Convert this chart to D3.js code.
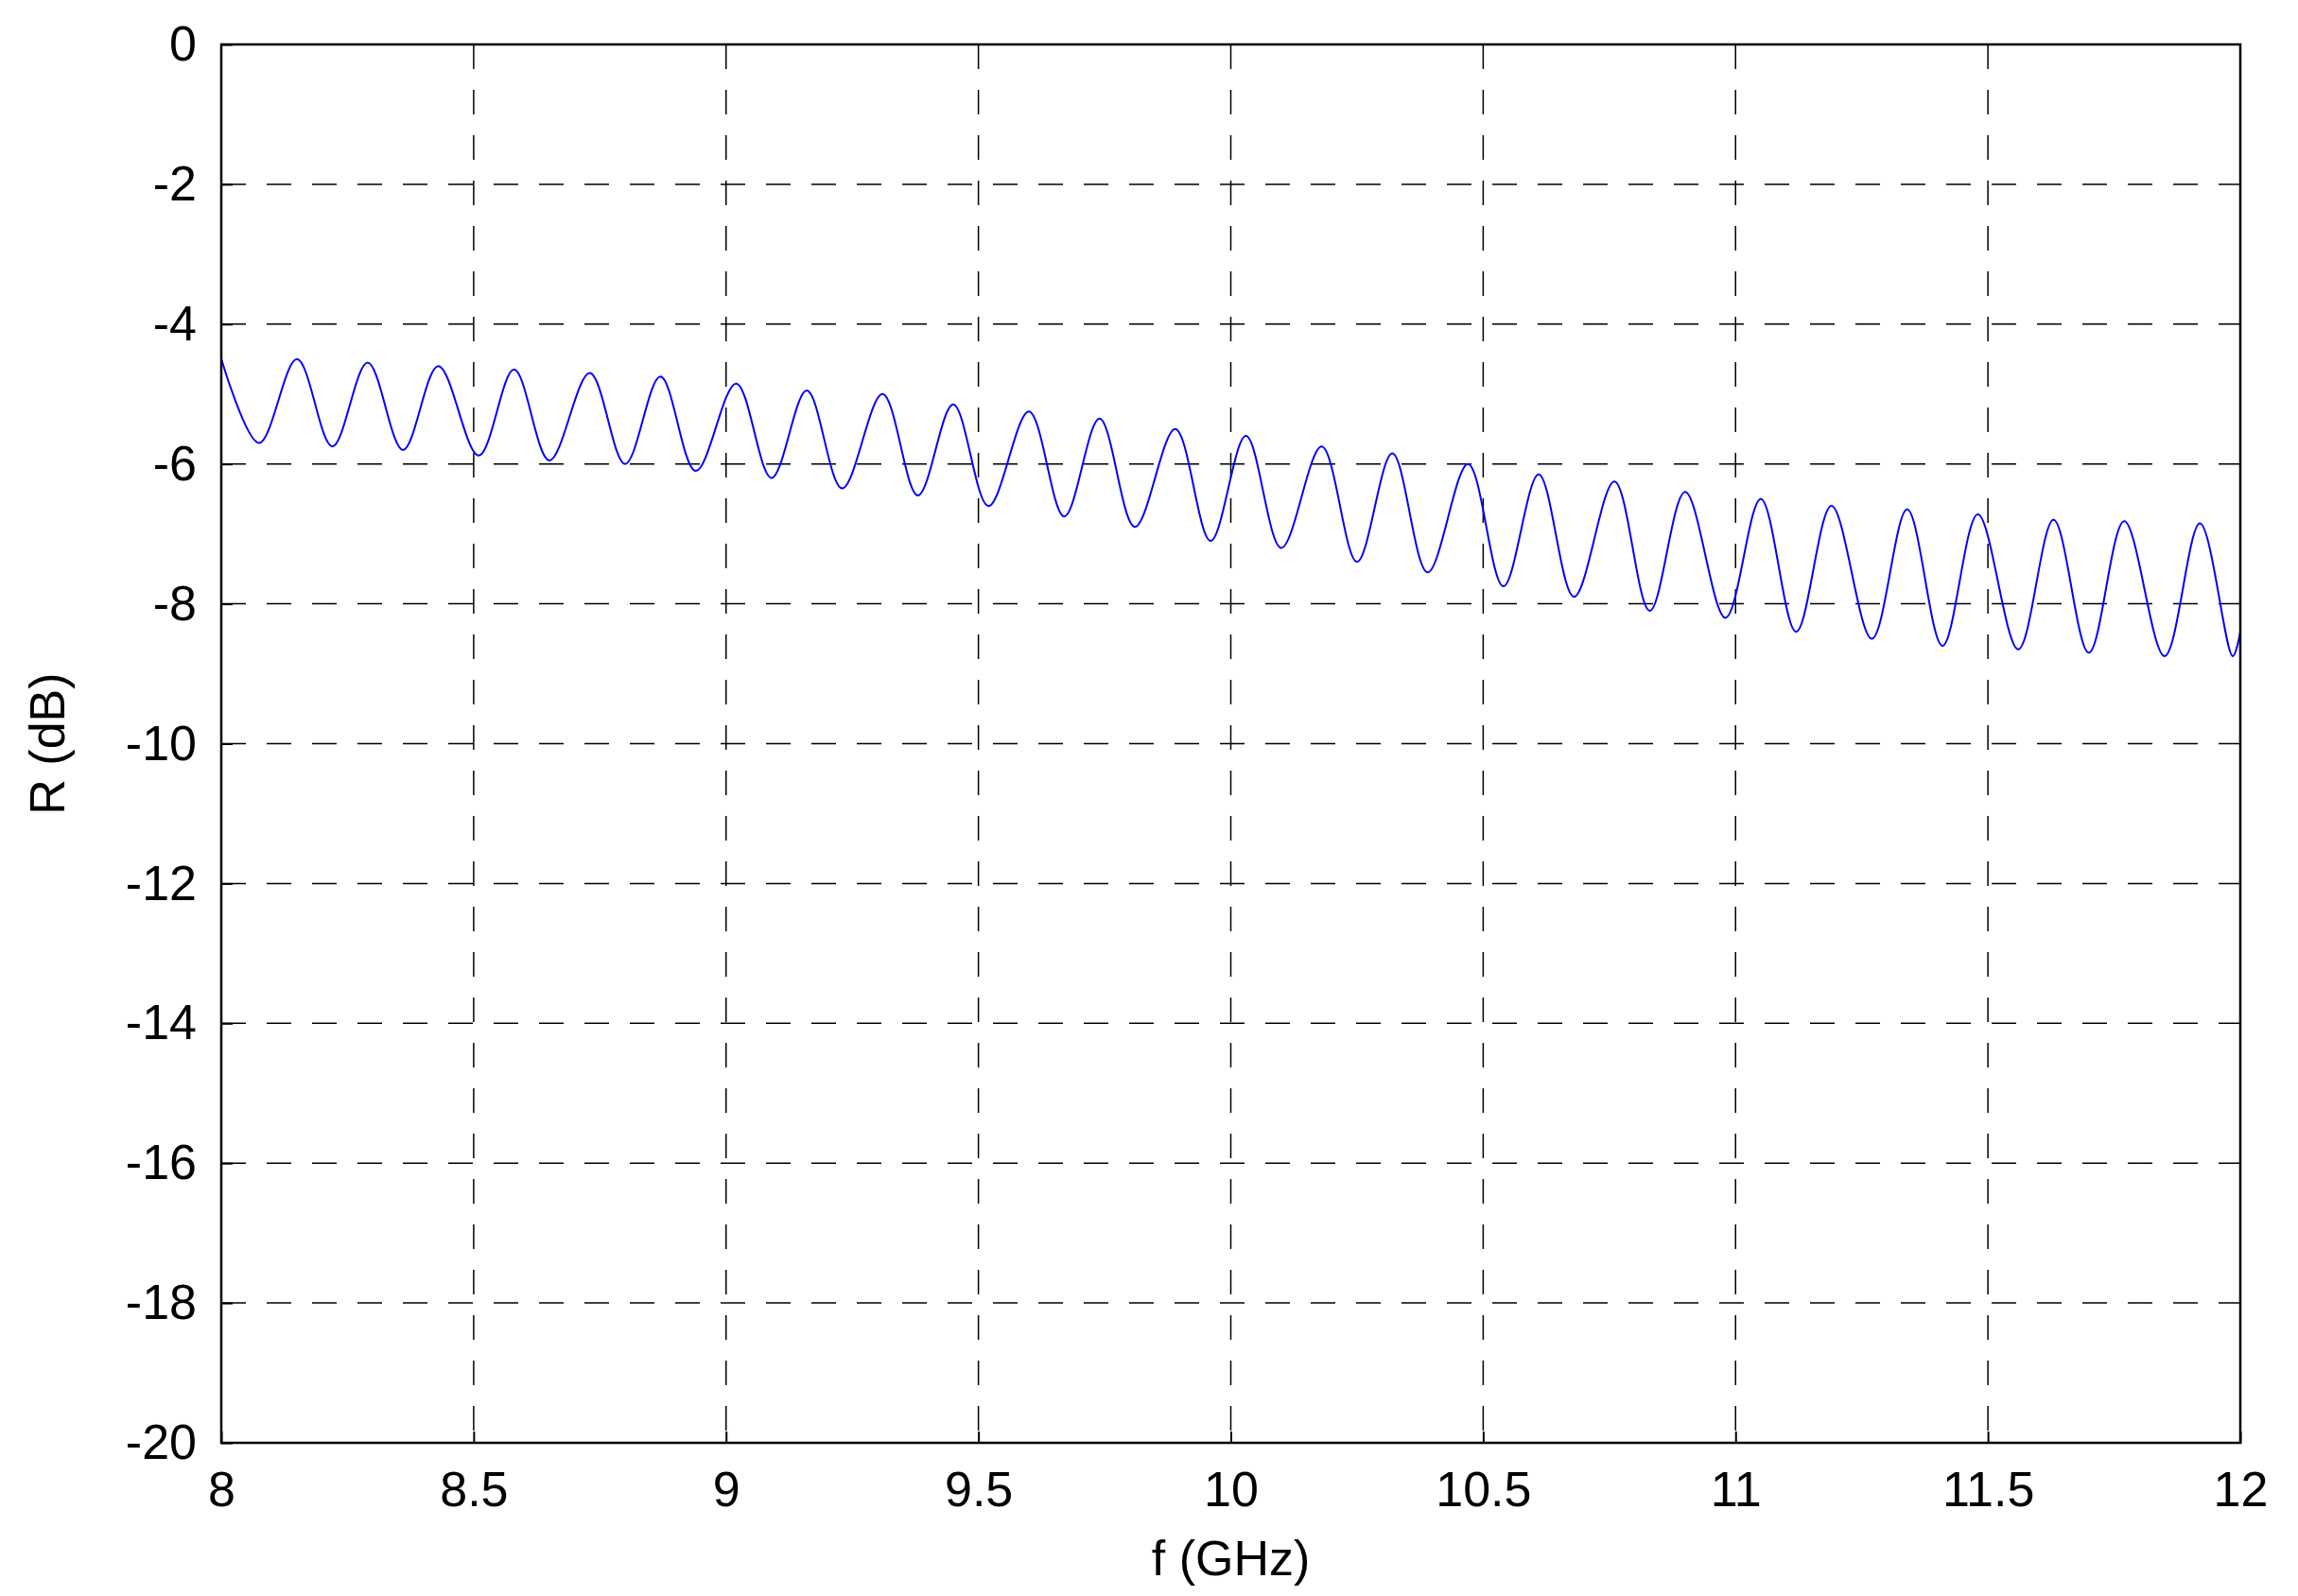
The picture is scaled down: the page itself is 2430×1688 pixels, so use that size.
<!DOCTYPE html>
<html>
<head>
<meta charset="utf-8">
<script src="https://cdn.jsdelivr.net/npm/d3@7"></script>
<style>
body { margin: 0; background: #fff; }
text { font-family: "Liberation Sans", Arial, sans-serif; }
</style>
</head>
<body>
<svg id="chart" width="2430" height="1688"></svg>
<script>
// extrema of the ripple (GHz, dB)
const freqs = [8.0, 8.075, 8.15, 8.22, 8.29, 8.36, 8.43, 8.51, 8.58, 8.65, 8.73, 8.80, 8.87, 8.94, 9.02, 9.09,
	9.16, 9.23, 9.31, 9.38, 9.45, 9.52, 9.60, 9.67, 9.74, 9.81, 9.89, 9.96, 10.03, 10.10, 10.18, 10.25,
	10.32, 10.39, 10.47, 10.54, 10.61, 10.68, 10.76, 10.83, 10.90, 10.98, 11.05, 11.12, 11.19, 11.27,
	11.34, 11.41, 11.48, 11.56, 11.63, 11.70, 11.77, 11.85, 11.92, 11.985, 12.0];
const rdb = [-4.5, -5.7, -4.5, -5.75, -4.55, -5.8, -4.6, -5.88, -4.65, -5.95, -4.7, -6.0, -4.75, -6.1, -4.85, -6.2,
	-4.95, -6.35, -5.0, -6.45, -5.15, -6.6, -5.25, -6.75, -5.35, -6.9, -5.5, -7.1, -5.6, -7.2, -5.75, -7.4,
	-5.85, -7.55, -6.0, -7.75, -6.15, -7.9, -6.25, -8.1, -6.4, -8.2, -6.5, -8.4, -6.6, -8.5,
	-6.65, -8.6, -6.72, -8.65, -6.8, -8.7, -6.82, -8.75, -6.85, -8.75, -8.4];
const xTicks = [8, 8.5, 9, 9.5, 10, 10.5, 11, 11.5, 12];
const yTicks = [0, -2, -4, -6, -8, -10, -12, -14, -16, -18, -20];

const pLeft = 234, pRight = 2369, pTop = 47, pBottom = 1526;
const svg = d3.select("#chart");

const x = d3.scaleLinear().domain([8, 12]).range([pLeft, pRight]);
const y = d3.scaleLinear().domain([-20, 0]).range([pBottom, pTop]);

const grid = svg.append("g")
	.attr("stroke", "#000")
	.attr("stroke-width", 1.5)
	.attr("stroke-dasharray", "26,22");

grid.selectAll(".vg")
	.data(xTicks.slice(1, -1))
	.enter().append("line")
	.attr("x1", d => x(d)).attr("x2", d => x(d))
	.attr("y1", pTop).attr("y2", pBottom);

grid.selectAll(".hg")
	.data(yTicks.slice(1, -1))
	.enter().append("line")
	.attr("y1", d => y(d)).attr("y2", d => y(d))
	.attr("x1", pLeft).attr("x2", pRight);

const line = d3.line()
	.x((d, i) => x(freqs[i]))
	.y(d => y(d))
	.curve(d3.curveCatmullRom);

svg.append("path")
	.datum(rdb)
	.attr("fill", "none")
	.attr("stroke", "#0000ff")
	.attr("stroke-width", 2)
	.attr("d", line);

svg.append("rect")
	.attr("x", pLeft).attr("y", pTop)
	.attr("width", pRight - pLeft).attr("height", pBottom - pTop)
	.attr("fill", "none").attr("stroke", "#000").attr("stroke-width", 2.5);

const fmt = d => String(d);

const xAxis = svg.append("g")
	.attr("transform", "translate(0," + pBottom + ")")
	.call(d3.axisBottom(x).tickValues(xTicks).tickSize(-12).tickPadding(30).tickFormat(fmt));
const yAxis = svg.append("g")
	.attr("transform", "translate(" + pLeft + ",0)")
	.call(d3.axisLeft(y).tickValues(yTicks).tickSize(-12).tickPadding(26).tickFormat(fmt));

[xAxis, yAxis].forEach(a => {
	a.select(".domain").remove();
	a.selectAll("line").attr("stroke", "#000").attr("stroke-width", 2);
	a.selectAll("text").attr("font-size", 52).attr("fill", "#000")
		.attr("font-family", "'Liberation Sans', Arial, sans-serif");
});

svg.append("text")
	.attr("x", (pLeft + pRight) / 2)
	.attr("y", 1666)
	.attr("text-anchor", "middle")
	.attr("font-size", 52)
	.text("f (GHz)");

svg.append("text")
	.attr("transform", "translate(68," + ((pTop + pBottom) / 2) + ") rotate(-90)")
	.attr("text-anchor", "middle")
	.attr("font-size", 52)
	.text("R (dB)");
</script>
</body>
</html>
